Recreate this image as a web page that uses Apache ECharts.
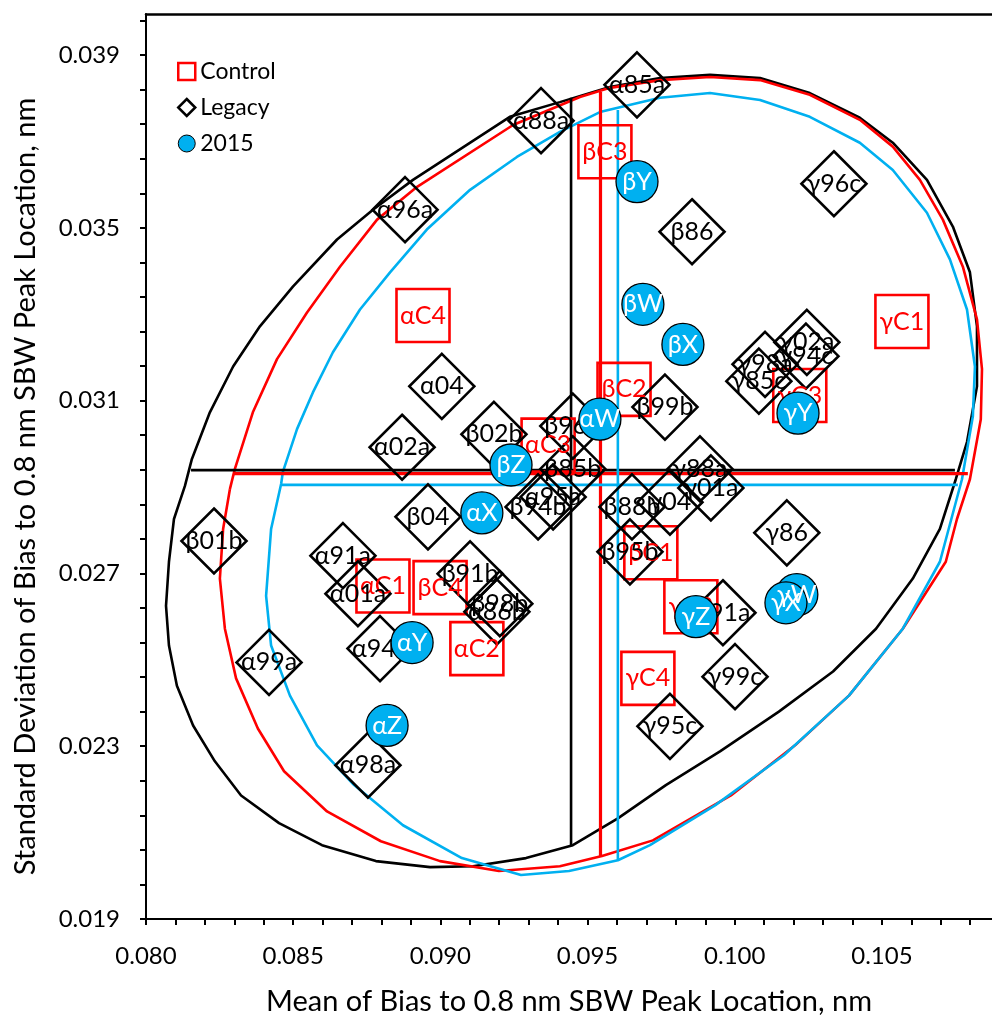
<!DOCTYPE html>
<html>
<head>
<meta charset="utf-8">
<script src="https://cdn.jsdelivr.net/npm/echarts/dist/echarts.min.js"></script>
<style>
html,body{margin:0;padding:0;background:#fff;overflow:hidden;}
#chart{width:992px;height:1021px;}
</style>
</head>
<body>
<div id="chart"></div>
<script>
// ---- tick labels ----
const xTickLabels = ['0.080','0.085','0.090','0.095','0.100','0.105'];
const yTickLabels = ['0.019','0.023','0.027','0.031','0.035','0.039'];

// ---- Control (red squares) ----
const controlNames = ['αC1','αC2','αC3','αC4','βC1','βC2','βC3','βC4','γC1','γC2','γC3','γC4'];
const controlX = [0.08805,0.09124,0.09366,0.08941,0.09715,0.09624,0.09559,0.08999,0.10568,0.09851,0.10221,0.09705];
const controlY = [0.02671,0.02526,0.02997,0.03297,0.02748,0.03126,0.03676,0.02667,0.03283,0.02623,0.03112,0.02457];

// ---- Legacy (diamonds) ----
const legacyNames = ['α85a','α88a','α96a','γ96c','β86','α04','α02a','β02b','β96b','β85b','α95a','β94b','β88b','γ04','γ88a','γ01a','β99b','γ02a','γ94c','γ98a','γ85c','β01b','α91a','α01a','β91b','β98b','α86b','α94a','α99a','α98a','γ86','β95b','γ91a','γ99c','γ95c','β04'];
const legacyX = [0.09668,0.09342,0.08880,0.10337,0.09855,0.09005,0.08870,0.09182,0.09450,0.09450,0.09383,0.09332,0.09651,0.09780,0.09882,0.09919,0.09763,0.10245,0.10242,0.10103,0.10082,0.08231,0.08669,0.08720,0.09101,0.09202,0.09192,0.08795,0.08418,0.08754,0.10177,0.09644,0.09960,0.10001,0.09780,0.08958];
const legacyY = [0.03831,0.03748,0.03542,0.03602,0.03491,0.03133,0.02992,0.03022,0.03041,0.02942,0.02877,0.02854,0.02854,0.02865,0.02942,0.02898,0.03085,0.03235,0.03203,0.03184,0.03145,0.02775,0.02741,0.02653,0.02699,0.02630,0.02611,0.02526,0.02494,0.02256,0.02794,0.02750,0.02609,0.02461,0.02346,0.02831];

// ---- 2015 (blue circles) ----
const y2015Names = ['βY','βW','βX','γY','αW','βZ','αX','αY','αZ','γZ','γW','γX'];
const y2015X = [0.09668,0.09688,0.09824,0.10215,0.09542,0.09240,0.09141,0.08904,0.08819,0.09868,0.10211,0.10174];
const y2015Y = [0.03607,0.03323,0.03230,0.03071,0.03057,0.02951,0.02840,0.02540,0.02348,0.02600,0.02651,0.02632];

// ---- confidence region outlines ----
const legacyCurveX = [0.08132,0.08156,0.08217,0.08296,0.08387,0.08499,0.08649,0.08771,0.08907,0.09236,0.09406,0.09576,0.09746,0.09916,0.10086,0.10255,0.10425,0.10537,0.10653,0.10741,0.10799,0.10823,0.10823,0.10789,0.10751,0.10697,0.10605,0.10480,0.10334,0.10150,0.09950,0.09766,0.09603,0.09450,0.09291,0.09111,0.08965,0.08781,0.08598,0.08452,0.08323,0.08234,0.08160,0.08105,0.08078,0.08068,0.08078,0.08095];
const legacyCurveY = [0.02902,0.02965,0.03073,0.03179,0.03272,0.03364,0.03473,0.03542,0.03611,0.03757,0.03791,0.03826,0.03847,0.03854,0.03847,0.03812,0.03755,0.03697,0.03611,0.03503,0.03397,0.03272,0.03133,0.03004,0.02918,0.02803,0.02688,0.02572,0.02473,0.02380,0.02288,0.02210,0.02133,0.02071,0.02041,0.02022,0.02020,0.02034,0.02071,0.02122,0.02186,0.02265,0.02348,0.02440,0.02533,0.02625,0.02727,0.02826];

const controlCurveX = [0.08285,0.08302,0.08363,0.08445,0.08547,0.08659,0.08785,0.08921,0.09247,0.09474,0.09576,0.09746,0.09916,0.10086,0.10255,0.10425,0.10537,0.10629,0.10707,0.10775,0.10823,0.10840,0.10836,0.10799,0.10755,0.10717,0.10571,0.10388,0.10205,0.09987,0.09722,0.09549,0.09406,0.09199,0.08999,0.08798,0.08615,0.08469,0.08380,0.08306,0.08268,0.08251,0.08262];
const controlCurveY = [0.02895,0.02942,0.03073,0.03196,0.03304,0.03410,0.03519,0.03595,0.03738,0.03803,0.03824,0.03842,0.03849,0.03842,0.03808,0.03750,0.03688,0.03611,0.03519,0.03410,0.03288,0.03173,0.03057,0.02918,0.02826,0.02727,0.02572,0.02417,0.02302,0.02186,0.02082,0.02046,0.02022,0.02011,0.02034,0.02080,0.02149,0.02242,0.02341,0.02457,0.02572,0.02688,0.02803];

const y2015CurveX = [0.08459,0.08465,0.08513,0.08567,0.08635,0.08727,0.08829,0.08954,0.09101,0.09260,0.09406,0.09542,0.09746,0.09916,0.10086,0.10255,0.10425,0.10537,0.10653,0.10731,0.10789,0.10816,0.10809,0.10772,0.10697,0.10571,0.10388,0.10167,0.09933,0.09712,0.09603,0.09437,0.09274,0.09073,0.08873,0.08707,0.08581,0.08489,0.08425,0.08408,0.08425];
const y2015CurveY = [0.02907,0.02935,0.03034,0.03119,0.03212,0.03311,0.03397,0.03496,0.03588,0.03664,0.03722,0.03768,0.03801,0.03812,0.03796,0.03757,0.03697,0.03634,0.03535,0.03427,0.03311,0.03179,0.03064,0.02918,0.02727,0.02572,0.02417,0.02279,0.02163,0.02071,0.02036,0.02011,0.02002,0.02041,0.02117,0.02210,0.02302,0.02417,0.02533,0.02648,0.02803];

// ---- mean crosshairs: order Legacy, Control, 2015 ----
const crossMeanX = [0.09444,0.09544,0.09603];
const crossMeanY = [0.02939,0.02931,0.02905];
const crossXFrom = [0.08153,0.08296,0.08462];
const crossXTo   = [0.10748,0.10792,0.10758];
const crossYFrom = [0.02069,0.02045,0.02036];
const crossYTo   = [0.03801,0.03815,0.03773];

// ---- build ----
const BLACK = '#000000', RED = '#FF0000', BLUE = '#00B0F0';
const FONT = 'Lato';
const X_MIN = 0.080, X_MAX = 0.10874, Y_MIN = 0.019, Y_MAX = 0.03995;
const xMajor = xTickLabels.map(Number);
const yMajor = yTickLabels.map(Number);
const xTicks = [], yTicks = [];
xMajor.forEach(v => { for (let k = 0; k < 5; k++) { const t = +(v + k*0.001).toFixed(5); if (t <= X_MAX) xTicks.push(t); } });
yMajor.forEach(v => { for (let k = 0; k < 5; k++) { const t = +(v + k*0.0008).toFixed(5); if (t <= Y_MAX - 0.0001) yTicks.push(t); } });

function closed(xs, ys) { const d = xs.map((x,i)=>[x, ys[i]]); d.push([xs[0], ys[0]]); return d; }
function pts(names, xs, ys) { return names.map((n,i)=>({name:n, value:[xs[i], ys[i]]})); }

const lineColors = [BLACK, RED, BLUE];
const lineSeries = [];
[[legacyCurveX, legacyCurveY],[controlCurveX, controlCurveY],[y2015CurveX, y2015CurveY]].forEach((c, i) => {
  lineSeries.push({type:'line', name:'curve'+i, data: closed(c[0], c[1]), showSymbol:false, symbol:'none', silent:true,
    lineStyle:{color: lineColors[i], width: 2.6, opacity:1}, z:1});
});
for (let i = 0; i < 3; i++) {
  lineSeries.push({type:'line', name:'h'+i, data:[[crossXFrom[i], crossMeanY[i]],[crossXTo[i], crossMeanY[i]]], showSymbol:false, symbol:'none', silent:true,
    lineStyle:{color: lineColors[i], width: i===1 ? 3.2 : 2.6}, z:1});
  lineSeries.push({type:'line', name:'v'+i, data:[[crossMeanX[i], crossYFrom[i]],[crossMeanX[i], crossYTo[i]]], showSymbol:false, symbol:'none', silent:true,
    lineStyle:{color: lineColors[i], width: i===1 ? 3.2 : 2.6}, z:1});
}

const labelBase = {show:true, position:'inside', formatter:'{b}', fontFamily:FONT, fontSize:25, opacity:1};

const chart = echarts.init(document.getElementById('chart'), null, {renderer:'canvas'});
chart.setOption({
  animation:false,
  backgroundColor:'#fff',
  textStyle:{fontFamily:FONT},
  grid:{left:146, top:14, right:0, bottom:100, show:false, containLabel:false},
  legend:{
    orient:'vertical', left:172, top:55, itemWidth:17, itemHeight:17, itemGap:13,
    textStyle:{fontFamily:FONT, fontSize:23, color:'#000'},
    data:[
      {name:'Control', icon:'rect', itemStyle:{color:'#fff', borderColor:RED, borderWidth:2.5}},
      {name:'Legacy', icon:'diamond', itemStyle:{color:'#fff', borderColor:BLACK, borderWidth:2.5}},
      {name:'2015', icon:'circle', itemStyle:{color:BLUE, borderColor:BLACK, borderWidth:1}}
    ],
    selectedMode:false
  },
  xAxis:[{
    type:'value', min:X_MIN, max:X_MAX, position:'bottom',
    name:'Mean of Bias to 0.8 nm SBW Peak Location, nm', nameLocation:'middle', nameGap:68,
    nameTextStyle:{fontFamily:FONT, fontSize:29, color:'#000', padding:[0,0,0,0]},
    axisLine:{show:true, onZero:false, lineStyle:{color:BLACK, width:2}},
    axisTick:{show:true, inside:false, length:6, lineStyle:{color:BLACK, width:2}, customValues:xTicks},
    axisLabel:{show:true, margin:25, fontFamily:FONT, fontSize:24, color:'#000', customValues:xMajor, formatter:v=>Number(v).toFixed(3)},
    splitLine:{show:false}
  },{
    type:'value', min:X_MIN, max:X_MAX, position:'top',
    axisLine:{show:true, onZero:false, lineStyle:{color:BLACK, width:2.5}},
    axisTick:{show:false}, axisLabel:{show:false}, splitLine:{show:false}
  }],
  yAxis:{
    type:'value', min:Y_MIN, max:Y_MAX,
    name:'Standard Deviation of Bias to 0.8 nm SBW Peak Location, nm', nameLocation:'middle', nameGap:106,
    nameTextStyle:{fontFamily:FONT, fontSize:29, color:'#000', padding:[0,40,0,0]},
    axisLine:{show:true, onZero:false, lineStyle:{color:BLACK, width:2}},
    axisTick:{show:true, inside:false, length:6, lineStyle:{color:BLACK, width:2}, customValues:yTicks},
    axisLabel:{show:true, margin:26, fontFamily:FONT, fontSize:24, color:'#000', customValues:yMajor, formatter:v=>Number(v).toFixed(3)},
    splitLine:{show:false}
  },
  series: lineSeries.concat([
    {type:'scatter', name:'Control', data: pts(controlNames, controlX, controlY), symbol:'rect', symbolSize:53,
     itemStyle:{color:'rgba(255,255,255,0)', borderColor:RED, borderWidth:2.6, opacity:1}, silent:true, z:3,
     label:Object.assign({}, labelBase, {color:RED})},
    {type:'scatter', name:'Legacy', data: pts(legacyNames, legacyX, legacyY), symbol:'diamond', symbolSize:65,
     itemStyle:{color:'rgba(255,255,255,0)', borderColor:BLACK, borderWidth:2.6, opacity:1}, silent:true, z:3,
     label:Object.assign({}, labelBase, {color:'#000'})},
    {type:'scatter', name:'2015', data: pts(y2015Names, y2015X, y2015Y), symbol:'circle', symbolSize:42,
     itemStyle:{color:BLUE, borderColor:BLACK, borderWidth:1.3, opacity:1}, silent:true, z:4,
     label:Object.assign({}, labelBase, {color:'#fff'})}
  ])
});
</script>
</body>
</html>
